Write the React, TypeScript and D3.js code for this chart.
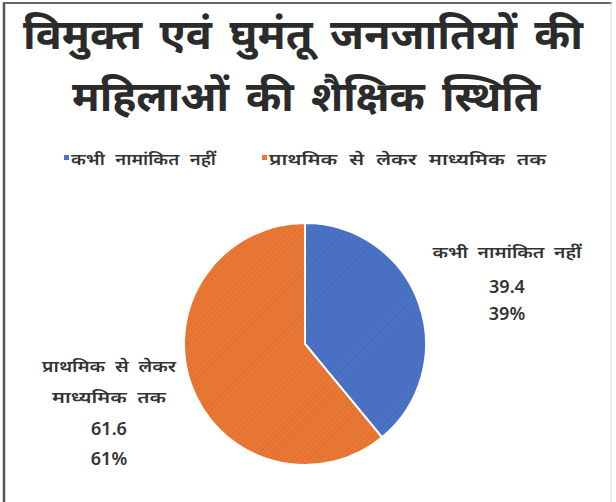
import { useEffect, useRef } from 'react';
import * as d3 from 'd3';

const titleLines = ['विमुक्त एवं घुमंतू जनजातियों की', 'महिलाओं की शैक्षिक स्थिति'];
const categories = ['कभी नामांकित नहीं', 'प्राथमिक से लेकर माध्यमिक तक'];
const values = [39.4, 61.6];
const percentLabels = ['39%', '61%'];
const labelLines = [['कभी नामांकित नहीं'], ['प्राथमिक से लेकर', 'माध्यमिक तक']];
const colors = ['#4a72c6', '#ea7733'];

const WIDTH = 616;
const HEIGHT = 502;
const FONT = "'Noto Sans', 'Noto Sans Devanagari', Lato, sans-serif";

export default function App() {
  const svgRef = useRef<SVGSVGElement>(null);

  useEffect(() => {
    if (!svgRef.current) return;
    const svg = d3.select(svgRef.current);
    svg.selectAll('*').remove();

    svg.append('rect').attr('width', WIDTH).attr('height', HEIGHT).attr('fill', '#fff');

    // frame (left + top dark, right faint)
    svg.append('line').attr('x1', 4).attr('x2', 4).attr('y1', 2).attr('y2', HEIGHT)
      .attr('stroke', '#555').attr('stroke-width', 2.5);
    svg.append('line').attr('x1', 3).attr('x2', WIDTH - 4).attr('y1', 3).attr('y2', 3)
      .attr('stroke', '#666').attr('stroke-width', 2);
    svg.append('line').attr('x1', WIDTH - 5).attr('x2', WIDTH - 5).attr('y1', 2).attr('y2', HEIGHT)
      .attr('stroke', '#ddd').attr('stroke-width', 1);

    // stretch a text horizontally to the width seen in the reference
    const fit = (t: any, w: number) =>
      t.attr('textLength', w).attr('lengthAdjust', 'spacingAndGlyphs');

    // title
    const titleX = [303, 306];
    const titleY = [49, 111];
    const titleWidths = [560, 468];
    titleLines.forEach((t, i) => {
      const el = svg.append('text')
        .attr('x', titleX[i])
        .attr('y', titleY[i])
        .attr('text-anchor', 'middle')
        .attr('font-family', FONT)
        .attr('font-size', 42)
        .attr('font-weight', 700)
        .attr('fill', '#2b2b2b')
        .attr('word-spacing', 6)
        .text(t);
      fit(el, titleWidths[i]);
    });

    // legend
    const legendX = [64, 262];
    const legendWidths = [145, 277];
    categories.forEach((c, i) => {
      const g = svg.append('g').attr('transform', `translate(${legendX[i]},159)`);
      g.append('rect').attr('x', 0).attr('y', -4).attr('width', 5).attr('height', 5).attr('fill', colors[i]);
      const el = g.append('text')
        .attr('x', 7)
        .attr('y', 6)
        .attr('font-family', FONT)
        .attr('font-size', 16)
        .attr('font-weight', 600)
        .attr('fill', '#333')
        .attr('word-spacing', 5)
        .text(c);
      fit(el, legendWidths[i]);
    });

    // pie
    const cx = 305;
    const cy = 344;
    const r = 121;
    const pie = d3.pie<number>().sort(null).value(d => d);
    const arc = d3.arc<d3.PieArcDatum<number>>().innerRadius(0).outerRadius(r);
    const arcs = pie(values);

    const defs = svg.append('defs');
    colors.forEach((col, i) => {
      const p = defs.append('pattern')
        .attr('id', `hatch-${i}`)
        .attr('patternUnits', 'userSpaceOnUse')
        .attr('width', 4)
        .attr('height', 4)
        .attr('patternTransform', 'rotate(45)');
      p.append('rect').attr('width', 4).attr('height', 4).attr('fill', col);
      p.append('line').attr('x1', 0).attr('x2', 0).attr('y1', 0).attr('y2', 4)
        .attr('stroke', d3.color(col)!.darker(0.6).toString()).attr('stroke-width', 1.2).attr('opacity', 0.55);
    });

    const pg = svg.append('g').attr('transform', `translate(${cx},${cy})`);
    pg.selectAll('path')
      .data(arcs)
      .join('path')
      .attr('d', arc)
      .attr('fill', (_d, i) => `url(#hatch-${i})`)
      .attr('stroke', '#fff')
      .attr('stroke-width', 2);

    // data labels
    const labelX = [507, 109];
    const rowY = [[258, 293, 320], [372, 403, 435, 465]];
    const nameWidths = [[149], [134, 114]];
    arcs.forEach((_a, i) => {
      const lines = [...labelLines[i], String(values[i]), percentLabels[i]];
      lines.forEach((l, j) => {
        const isName = j < labelLines[i].length;
        const t = svg.append('text')
          .attr('x', labelX[i])
          .attr('y', rowY[i][j])
          .attr('text-anchor', 'middle')
          .attr('font-family', FONT)
          .attr('font-size', isName ? 16 : 18)
          .attr('font-weight', 600)
          .attr('fill', '#333')
          .attr('word-spacing', 4)
          .text(l);
        if (isName) fit(t, nameWidths[i][j]);
      });
    });
  }, []);

  return (
    <svg
      ref={svgRef}
      width={WIDTH}
      height={HEIGHT}
      style={{ position: 'absolute', left: 0, top: 0 }}
    />
  );
}
